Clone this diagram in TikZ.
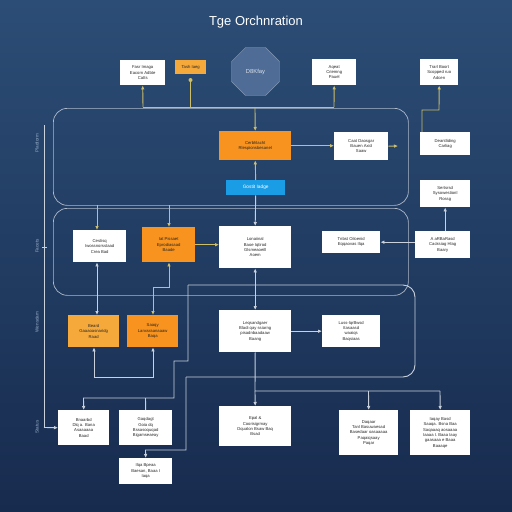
\documentclass[tikz,border=0pt]{standalone}
\usepackage{fontspec}
\setmainfont{Liberation Sans}
\usetikzlibrary{shapes.geometric,arrows.meta}
\definecolor{bgtop}{HTML}{2C4D76}
\definecolor{bgbot}{HTML}{172B4E}
\definecolor{ylw}{HTML}{CDBE6A}
\definecolor{gry}{HTML}{C9D1DC}
\definecolor{frm}{HTML}{AEB9C9}
\definecolor{orA}{HTML}{F7931E}
\definecolor{orB}{HTML}{F6A93B}
\definecolor{blu}{HTML}{1B9DE6}
\definecolor{oct}{HTML}{4E6C96}
\definecolor{lbl}{HTML}{9AAFCB}
\tikzset{
  box/.style={fill=white, anchor=north west, align=center, inner sep=1pt,
    font=\fontsize{4.2}{5.3}\selectfont, text=black!85},
  obox/.style={box, fill=orA},
  obox2/.style={box, fill=orB},
  bbox/.style={box, fill=blu, text=white, font=\fontsize{4.8}{5.5}\selectfont},
  frame/.style={draw=frm, line width=0.7pt, rounded corners=14pt, anchor=north west, inner sep=0pt},
  yl/.style={draw=ylw, line width=0.9pt},
  gl/.style={draw=gry, line width=0.9pt},
  tip/.style={-{Latex[length=4pt,width=3.6pt]}},
  tips/.style={{Latex[length=4pt,width=3.6pt]}-{Latex[length=4pt,width=3.6pt]}},
  side/.style={rotate=90, text=lbl, font=\fontsize{4.6}{5}\selectfont}
}
\begin{document}
\begin{tikzpicture}[x=1pt,y=-1pt]
\useasboundingbox (0,0) rectangle (512,512);
\shade[top color=bgtop, bottom color=bgbot] (0,0) rectangle (512,512);

% title
\node[text=white, font=\fontsize{13}{14}\selectfont] (title) at (256,22) {Tge Orchnration};

% frames
\node[frame, minimum width=355pt, minimum height=97pt] (fr1) at (53,108) {};
\node[frame, minimum width=355pt, minimum height=87pt] (fr2) at (53,208) {};

% top row
\node[box, minimum width=45pt, minimum height=25pt] (A) at (120,60) {Fasr Imaga\\Eacorn Adbte\\Catts};
\node[obox2, minimum width=31pt, minimum height=14pt] (B) at (175,60) {Tash Iaeg};
\node[regular polygon, regular polygon sides=8, minimum size=52pt, fill=oct, draw=oct!70!white, line width=0.4pt,
      text=white!80!oct, font=\fontsize{5.8}{6}\selectfont, inner sep=0pt] (Oc) at (255.5,71.5) {D8Kfay};
\node[box, minimum width=44pt, minimum height=26pt] (C) at (312,59) {Aqeat\\Criemng\\Pauel};
\node[box, minimum width=38pt, minimum height=26pt] (D) at (420,59) {Trarl Boort\\Scopped ruo\\Adcen};

% frame 1
\node[obox, minimum width=72pt, minimum height=29pt] (Or1) at (219,131) {Cerbhlacht\\Rlespionsbesanel};
\node[box, minimum width=54pt, minimum height=28pt] (W1) at (334,132) {Caat Daosgar\\Bauen Axid\\Saaw};
\node[bbox, minimum width=59pt, minimum height=15pt] (Bl) at (226,180) {Gostit Iadge};
\node[box, minimum width=50pt, minimum height=23pt] (E) at (420,132) {Deantliding\\Carliag};
\node[box, minimum width=50pt, minimum height=27pt] (F) at (420,180) {Sertsrsd\\Sysowestionl\\Rossg};

% frame 2
\node[box, minimum width=53pt, minimum height=32pt] (H) at (73,230) {Cestisq\\Iwossnorsstaad\\Crea Bad};
\node[obox, minimum width=53pt, minimum height=35pt] (I) at (142,227) {Iat Pissaet\\Eprodiasaad\\Baade};
\node[box, minimum width=72pt, minimum height=42pt] (J) at (219,226) {Lonaiinal\\Baoe Iqtirod\\Glsmeaoeill\\Aoem};
\node[box, minimum width=58pt, minimum height=22pt] (K) at (322,231) {Tnbst Oiloenid\\Eqqaovas Ilqa};
\node[box, minimum width=55pt, minimum height=27pt] (G) at (415,231) {A aRBaRasd\\Cacksiag Hlag\\Baary};

% third row
\node[obox2, minimum width=51pt, minimum height=32pt] (L) at (68,315) {Beard\\Gaaaoasnaridg\\Raad};
\node[obox, minimum width=51pt, minimum height=32pt] (M) at (127,315) {Saaqy\\Lanxsraanaaaw\\Baqa};
\node[box, minimum width=72pt, minimum height=42pt] (N) at (219,310) {Leqsandgaer\\Bladi qay ssiarng\\pisadnbaadaaw\\Baang};
\node[box, minimum width=58pt, minimum height=32pt] (O) at (322,315) {Luss-lqrBwsd\\Itasaasd\\waaiqs\\Baqsiaas};

% bottom row
\node[box, minimum width=51pt, minimum height=35pt] (Q) at (58,410) {Bnaarbd\\Dlq a. Bana\\Asaaaaaa\\Baad};
\node[box, minimum width=53pt, minimum height=35pt] (R) at (119,410) {Gaqdagt\\Goia dq\\Bssasoquqad\\Bigamseaeay};
\node[box, minimum width=53pt, minimum height=26pt] (S) at (119,458) {Ilqa Bpeaa\\Baesan, Baaa I\\Iaqa};
\node[box, minimum width=72pt, minimum height=40pt] (P) at (219,406) {Epal \&\\Coorisigrmay\\Dqualon Bsaw Baq\\Bsad};
\node[box, minimum width=59pt, minimum height=45pt] (T) at (339,410) {Daqaar\\Tanl Basuwaesad\\Basedaar oasaaaaa\\Paqaiqsaay\\Paqar};
\node[box, minimum width=60pt, minimum height=45pt] (U) at (410,410) {Iaqay Basd\\Saaqa. Bsna Baa\\Saqaaaq aosaaaa\\Iaaaa I. Baaa Iaay\\gaasaaa e Baaa\\Baaaqe};

% side labels
\node[side] (s1) at (37,143) {Pladtorm};
\node[side] (s2) at (37,246) {Facets};
\node[side] (s3) at (37,322) {Wensdam};
\node[side] (s4) at (37,427) {Status};

% coordinates
\coordinate (bus1) at (143,107);
\coordinate (bus2) at (334,107);
\coordinate (busB) at (190.5,107);
\coordinate (bDot) at (190.5,80);
\coordinate (busM) at (255,107);
\coordinate (dE) at (439,110);
\coordinate (wEnd) at (398,146);
\coordinate (h1) at (97,205);
\coordinate (i1) at (169,205);
\coordinate (iM) at (153,287);
\coordinate (lm) at (94,377);
\coordinate (nb) at (255,391);
\coordinate (tb) at (368.5,391);
\coordinate (ub) at (440,391);
\coordinate (c1) at (188,285);
\coordinate (c2) at (174,361);
\coordinate (c3) at (83.5,398);
\coordinate (c4) at (186,377);
\coordinate (c5) at (145.5,450);
\coordinate (rt) at (145.5,398);
\coordinate (lt) at (44,125);
\coordinate (lb) at (44,427.5);

% top bus
\draw[yl] (bus1) -- (bus2);
\draw[yl,tip] (bus1) -- (A.south);
\draw[yl] (busB) -- (bDot);
\fill[ylw] (bDot) circle (2pt);
\draw[yl,tip] (bus2) -- (C.south);
\draw[yl,tip] (busM) -- (Or1.north);
\draw[yl,tip] ([xshift=2pt]E.north west) |- (dE) -- (D.south);

% frame 1 links
\draw[yl,tip] (Or1.east) -- (Or1.east -| W1.west);
\draw[yl,tip] (W1.east) -- (wEnd);
\draw[yl,tip] (Bl.north) -- (Or1.south);
\draw[gl,tip] (Bl.south) -- (J.north);
\draw[gl,tip] (G.north -| F.south) -- (F.south);

% frame 2 links
\draw[yl,tip] (h1) -- (H.north -| h1);
\draw[yl,tip] (i1) -- (I.north -| i1);
\draw[yl,tip] (I.east) -- (I.east -| J.west);
\draw[gl,tip] (G.west |- K.east) -- (K.east);
\draw[gl,tips] (H.south -| h1) -- (L.north -| h1);
\draw[yl,tips] (I.south -| i1) |- (iM) -- (M.north -| iM);
\draw[gl,tips] (L.south -| lm) |- (lm) -| (M.south -| iM);
\draw[gl,tips] (J.south) -- (N.north);
\draw[gl,tip] (N.east) -- (O.west);

% bottom distribution
\draw[gl] (N.south) -- (nb) -- (ub);
\draw[gl,tip] (nb) -- (P.north);
\draw[gl,tip] (tb) -- (T.north);
\draw[gl,tip] (ub) -- (U.north);

% loop frame and branches
\draw[gl, rounded corners=12pt] (c1) -- (415,285) -- (415,377) -- (c4);
\draw[gl,tip] (c1) -- (188,361) -- (c2) |- (c3) -- (Q.north);
\draw[gl] (rt) -- (R.north);
\draw[gl,tip] (c4) |- (c5) -- (S.north);

% left spine
\draw[gl, line width=0.7pt] (lt) -- (lb);
\draw[gl,tip] (lb) -- (Q.west);
\draw[gl, line width=0.6pt] (42,247) -- (47,247);
\end{tikzpicture}
\end{document}
